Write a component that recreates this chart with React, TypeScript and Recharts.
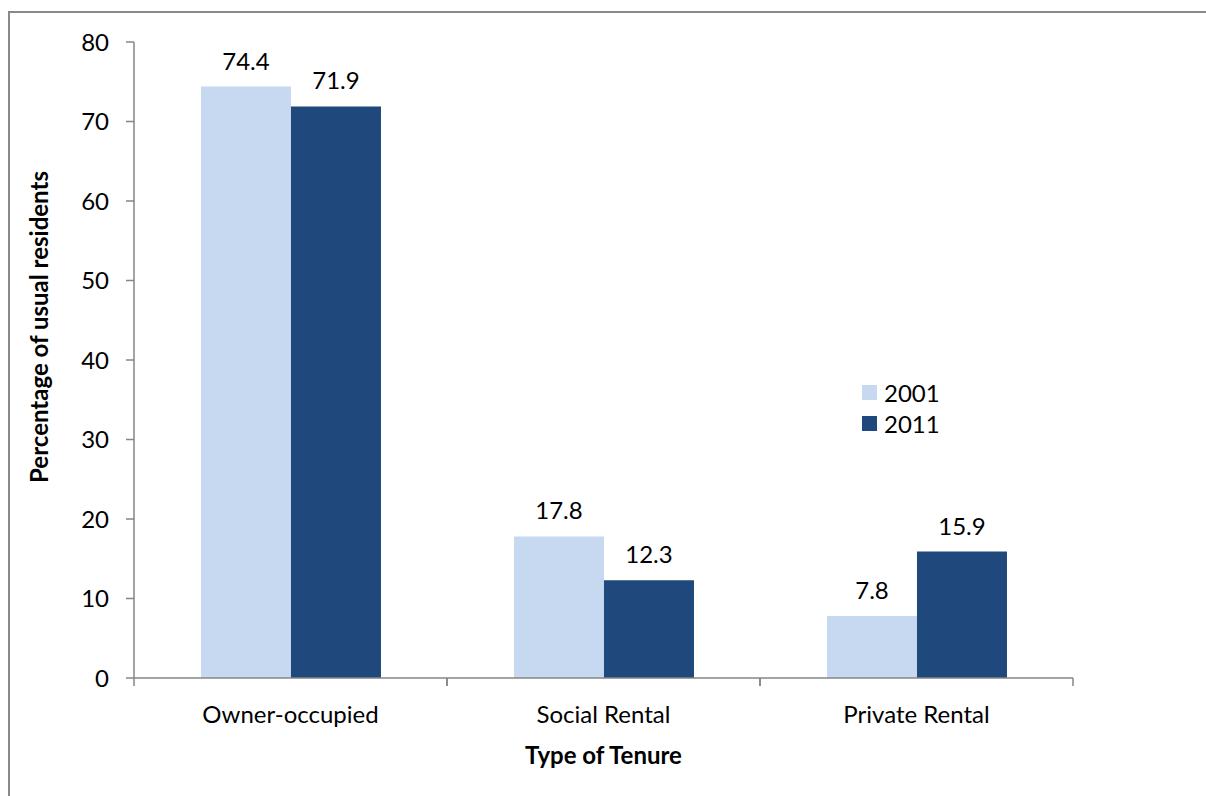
import React from 'react';
import { BarChart, Bar, XAxis, YAxis, LabelList, Legend } from 'recharts';

const categories = ['Owner-occupied', 'Social Rental', 'Private Rental'];
const values2001 = [74.4, 17.8, 7.8];
const values2011 = [71.9, 12.3, 15.9];
const yTicks = [0, 10, 20, 30, 40, 50, 60, 70, 80];
const seriesNames = ['2001', '2011'];
const seriesColors = ['#C6D9F1', '#1F497D'];

const data = categories.map((c, i) => ({ category: c, v2001: values2001[i], v2011: values2011[i] }));

const FONT = 'Lato, "Open Sans", sans-serif';
const AXIS = '#868686';

const CategoryTick = (props: any) => {
  const { x, y, payload } = props;
  const half = payload && typeof payload.offset === 'number' ? payload.offset : 156.5;
  return (
    <g>
      <line x1={x - half} x2={x - half} y1={y} y2={y + 8} stroke={AXIS} strokeWidth={1.5} />
      <line x1={x + half} x2={x + half} y1={y} y2={y + 8} stroke={AXIS} strokeWidth={1.5} />
      <text x={x} y={y + 35} textAnchor="middle" dominantBaseline="central" fontFamily={FONT} fontSize={24} fill="#000">
        {payload.value}
      </text>
    </g>
  );
};

const LegendContent = (props: any) => {
  const payload = props.payload || [];
  return (
    <div style={{ fontFamily: FONT, fontSize: 24, color: '#000' }}>
      {payload.map((p: any, i: number) => (
        <div key={i} style={{ display: 'flex', alignItems: 'center', height: 31 }}>
          <span style={{ display: 'inline-block', width: 15, height: 15, background: p.color, marginRight: 7 }} />
          <span>{p.value}</span>
        </div>
      ))}
    </div>
  );
};

export default function App() {
  return (
    <div style={{ position: 'absolute', left: 0, top: 0, width: 1206, height: 796, background: '#fff', overflow: 'hidden' }}>
      <div style={{ position: 'absolute', left: 8, top: 11, width: 1300, height: 900, borderLeft: '2px solid #898989', borderTop: '2px solid #898989' }} />
      <div style={{ position: 'absolute', left: 0, top: 0 }}>
        <BarChart
          width={1206}
          height={796}
          data={data}
          margin={{ top: 42, right: 133, left: 0, bottom: 0 }}
          barCategoryGap="21.4%"
          barGap={0}
        >
          <XAxis
            dataKey="category"
            height={118}
            axisLine={{ stroke: AXIS, strokeWidth: 1.5 }}
            tickLine={false}
            tickSize={0}
            tickMargin={0}
            tick={<CategoryTick />}
            interval={0}
            label={{
              content: (lp: any) => {
                const vb = lp.viewBox || { x: 134, y: 678, width: 939 };
                return (
                  <text x={vb.x + vb.width / 2} y={vb.y + 76} textAnchor="middle" dominantBaseline="central" fontFamily={FONT} fontSize={24} fontWeight="bold" fill="#000">
                    Type of Tenure
                  </text>
                );
              },
            }}
          />
          <YAxis
            width={134}
            domain={[0, 80]}
            ticks={yTicks}
            interval={0}
            axisLine={{ stroke: AXIS, strokeWidth: 1.5 }}
            tickLine={{ stroke: AXIS, strokeWidth: 1.5 }}
            tickSize={8}
            tickMargin={17}
            tick={{ fontFamily: FONT, fontSize: 24, fill: '#000' }}
            label={{
              content: (lp: any) => {
                const vb = lp.viewBox || { x: 0, y: 42, width: 134, height: 636 };
                const cx = vb.x + 38;
                const cy = vb.y + vb.height / 2 - 33;
                return (
                  <text x={cx} y={cy} transform={`rotate(-90, ${cx}, ${cy})`} textAnchor="middle" dominantBaseline="central" fontFamily={FONT} fontSize={24} fontWeight="bold" fill="#000">
                    Percentage of usual residents
                  </text>
                );
              },
            }}
          />
          <Legend
            layout="horizontal"
            verticalAlign="middle"
            align="center"
            content={<LegendContent />}
            wrapperStyle={{ left: 862, top: 377, width: 120 }}
          />
          <Bar dataKey="v2001" name={seriesNames[0]} fill={seriesColors[0]} isAnimationActive={false}>
            <LabelList dataKey="v2001" position="top" offset={17} style={{ fontFamily: FONT, fontSize: 24, fill: '#000' }} />
          </Bar>
          <Bar dataKey="v2011" name={seriesNames[1]} fill={seriesColors[1]} isAnimationActive={false}>
            <LabelList dataKey="v2011" position="top" offset={17} style={{ fontFamily: FONT, fontSize: 24, fill: '#000' }} />
          </Bar>
        </BarChart>
      </div>
    </div>
  );
}
